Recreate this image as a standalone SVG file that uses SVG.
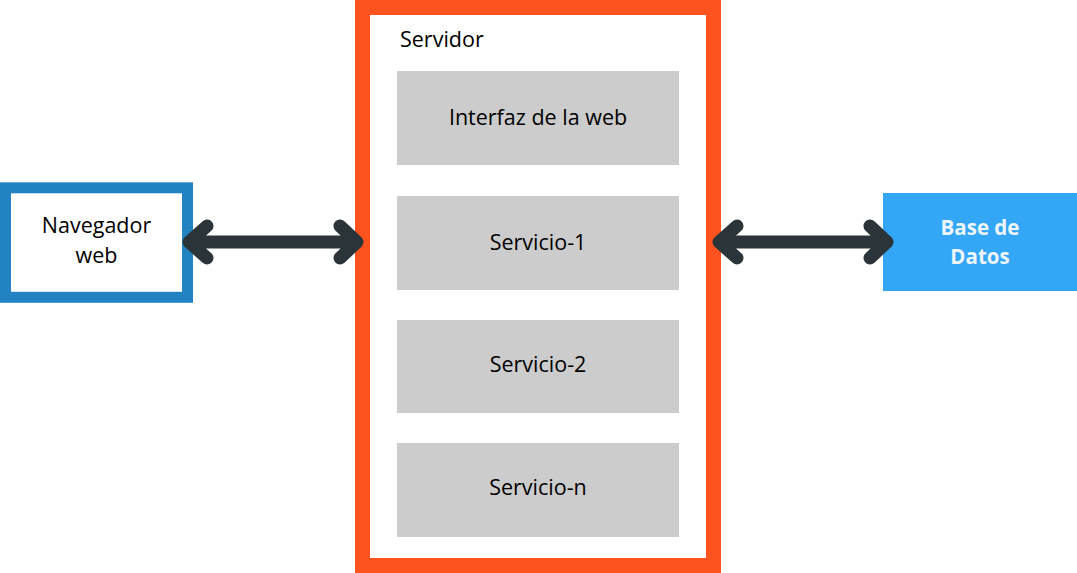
<svg xmlns="http://www.w3.org/2000/svg" width="1077" height="573" viewBox="0 0 1077 573">
<style>
.lbl{font-family:"Open Sans","Liberation Sans",sans-serif;font-size:21.5px;fill:#000;text-anchor:middle}
.svc{fill:#cccccc}
.arr{fill:none;stroke:#2a3439;stroke-width:13;stroke-linecap:round;stroke-linejoin:round}
</style>
<rect width="1077" height="573" fill="#ffffff"/>
<g id="servidor">
<rect x="362.5" y="7.5" width="351" height="558" fill="#ffffff" stroke="#ff531f" stroke-width="15"/>
<text class="lbl" x="400" y="47" style="text-anchor:start">Servidor</text>
</g>
<g id="interfaz">
<rect class="svc" x="397" y="71" width="282" height="94"/>
<text class="lbl" x="538" y="125">Interfaz de la web</text>
</g>
<g id="servicio1">
<rect class="svc" x="397" y="196" width="282" height="94"/>
<text class="lbl" x="538" y="250">Servicio-1</text>
</g>
<g id="servicio2">
<rect class="svc" x="397" y="320" width="282" height="93"/>
<text class="lbl" x="538" y="372">Servicio-2</text>
</g>
<g id="servicion">
<rect class="svc" x="397" y="443" width="282" height="94"/>
<text class="lbl" x="538" y="495">Servicio-n</text>
</g>
<g id="navegador">
<rect x="5.5" y="187.8" width="182" height="109.5" fill="#ffffff" stroke="#2383c2" stroke-width="11"/>
<text class="lbl" x="96.5" y="233">Navegador</text>
<text class="lbl" x="96.5" y="263">web</text>
</g>
<g id="basedatos">
<rect x="883" y="193" width="194" height="98" fill="#33a6f5"/>
<text class="lbl" x="980" y="235" style="fill:#eef6fc;font-weight:bold;font-size:20.5px">Base de</text>
<text class="lbl" x="980" y="264" style="fill:#eef6fc;font-weight:bold;font-size:20.5px">Datos</text>
</g>
<g id="connectors">
<path class="arr" d="M189,242 H357 M207,226 L189,242 L207,258 M340,226 L357,242 L340,258"/>
<path class="arr" d="M719,242 H887 M737,226 L719,242 L737,258 M870,226 L887,242 L870,258"/>
</g>
</svg>
